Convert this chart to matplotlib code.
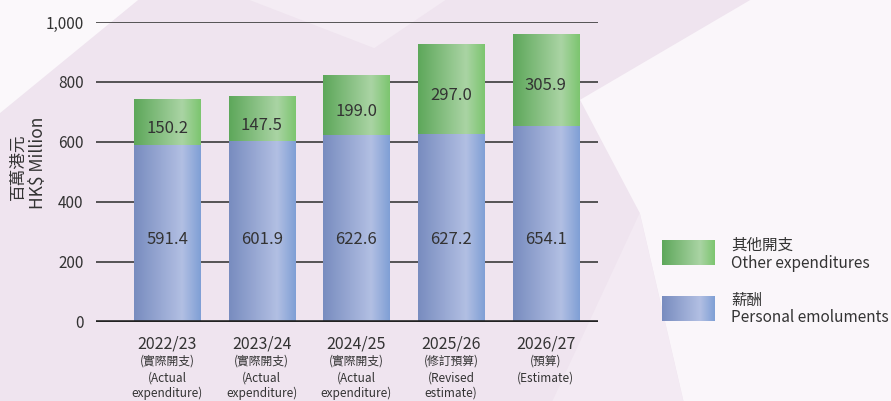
import numpy as np
import matplotlib
matplotlib.use("Agg")
import matplotlib.pyplot as plt
from matplotlib.colors import LinearSegmentedColormap
from matplotlib.patches import Polygon

plt.rcParams['font.family'] = ['Noto Sans CJK TC', 'DejaVu Sans']

# data
years = ["2022/23", "2023/24", "2024/25", "2025/26", "2026/27"]
status_zh = ["(實際開支)", "(實際開支)", "(實際開支)", "(修訂預算)", "(預算)"]
status_en = ["(Actual\nexpenditure)", "(Actual\nexpenditure)", "(Actual\nexpenditure)",
             "(Revised\nestimate)", "(Estimate)"]
emoluments = [591.4, 601.9, 622.6, 627.2, 654.1]
other = [150.2, 147.5, 199.0, 297.0, 305.9]

blue_cmap = LinearSegmentedColormap.from_list(
    "blue", [(0, "#788cbf"), (0.72, "#b2bfe3"), (1, "#7f9fd5")])
green_cmap = LinearSegmentedColormap.from_list(
    "green", [(0, "#5da75a"), (0.72, "#aad4a4"), (1, "#7cc56f")])
grad = np.linspace(0, 1, 256).reshape(1, -1)

fig = plt.figure(figsize=(8.91, 4.01), dpi=100)
fig.patch.set_facecolor("#efe4ef")

# soft background shapes, on their own axes behind everything
bgax = fig.add_axes([0, 0, 1, 1], zorder=-10)
bgax.set_xlim(0, 1)
bgax.set_ylim(0, 1)
bgax.axis("off")
bg = [
    ([(0, 1), (0, 0.718), (0.155, 1)], "#fbf8fb"),
    ([(0.28, 1), (0.50, 1), (0.42, 0.88)], "#f4ecf4"),
    ([(0.651, 0.751), (0.842, 1), (1, 1), (1, 0), (0.767, 0), (0.718, 0.469)], "#faf6fa"),
    ([(0.62, 0), (0.718, 0.469), (0.767, 0)], "#f3eaf3"),
]
for pts, c in bg:
    bgax.add_patch(Polygon(pts, closed=True, facecolor=c, edgecolor="none"))

ax = fig.add_axes([96 / 891, 79 / 401, 502 / 891, 300 / 401], zorder=1)
ax.set_facecolor("none")
for s in ax.spines.values():
    s.set_visible(False)

x = np.arange(len(years))
w = 0.70

for yv in [200, 400, 600, 800, 1000]:
    ax.axhline(yv, color="#2b2b2b", lw=1.1, zorder=1)
ax.axhline(0, color="#222222", lw=2.6, zorder=4)

for i in range(len(years)):
    b = emoluments[i]
    g = other[i]
    ax.imshow(grad, cmap=blue_cmap, aspect="auto", interpolation="bicubic",
              extent=(x[i] - w / 2, x[i] + w / 2, 0, b), zorder=2)
    ax.imshow(grad, cmap=green_cmap, aspect="auto", interpolation="bicubic",
              extent=(x[i] - w / 2, x[i] + w / 2, b, b + g), zorder=2)
    ax.text(x[i], 275, f"{b:.1f}", ha="center", va="center",
            fontsize=12, color="#333333", zorder=5)
    ax.text(x[i], b + g / 2 - 20, f"{g:.1f}", ha="center", va="center",
            fontsize=12, color="#333333", zorder=5)

ax.set_xlim(-0.75, 4.55)
ax.set_ylim(0, 1000)

ax.set_yticks([0, 200, 400, 600, 800, 1000])
ax.set_yticklabels(["0", "200", "400", "600", "800", "1,000"])
ax.tick_params(axis="y", length=0, pad=9, labelsize=11, labelcolor="#333333")
ax.set_xticks([])

# category labels
tr = ax.get_xaxis_transform()
for i in range(len(years)):
    ax.text(x[i], -0.045, years[i], transform=tr, ha="center", va="top",
            fontsize=11.5, color="#333333", clip_on=False)
    ax.text(x[i], -0.108, status_zh[i], transform=tr, ha="center", va="top",
            fontsize=8.5, color="#333333", clip_on=False)
    ax.text(x[i], -0.165, status_en[i], transform=tr, ha="center", va="top",
            fontsize=8.5, color="#333333", clip_on=False, linespacing=1.25)

# y axis title
fig.text(18 / 891, 1 - 167 / 401, "百萬港元", rotation=90, ha="center", va="center",
         fontsize=12, color="#333333")
fig.text(38 / 891, 1 - 163 / 401, "HK$ Million", rotation=90, ha="center", va="center",
         fontsize=12.5, color="#333333")

# legend
leg = [("其他開支", "Other expenditures", green_cmap, 240, 245, 263),
       ("薪酬", "Personal emoluments", blue_cmap, 296, 300, 318)]
for zh, en, cm, top, zy, ey in leg:
    lax = fig.add_axes([662 / 891, 1 - (top + 25) / 401, 53 / 891, 25 / 401], zorder=1)
    lax.imshow(grad, cmap=cm, aspect="auto", interpolation="bicubic")
    lax.axis("off")
    fig.text(731 / 891, 1 - zy / 401, zh, ha="left", va="center",
             fontsize=11.2, color="#333333")
    fig.text(731 / 891, 1 - ey / 401, en, ha="left", va="center",
             fontsize=11.1, color="#333333")

fig.savefig("out.png", dpi=100, facecolor=fig.get_facecolor())
